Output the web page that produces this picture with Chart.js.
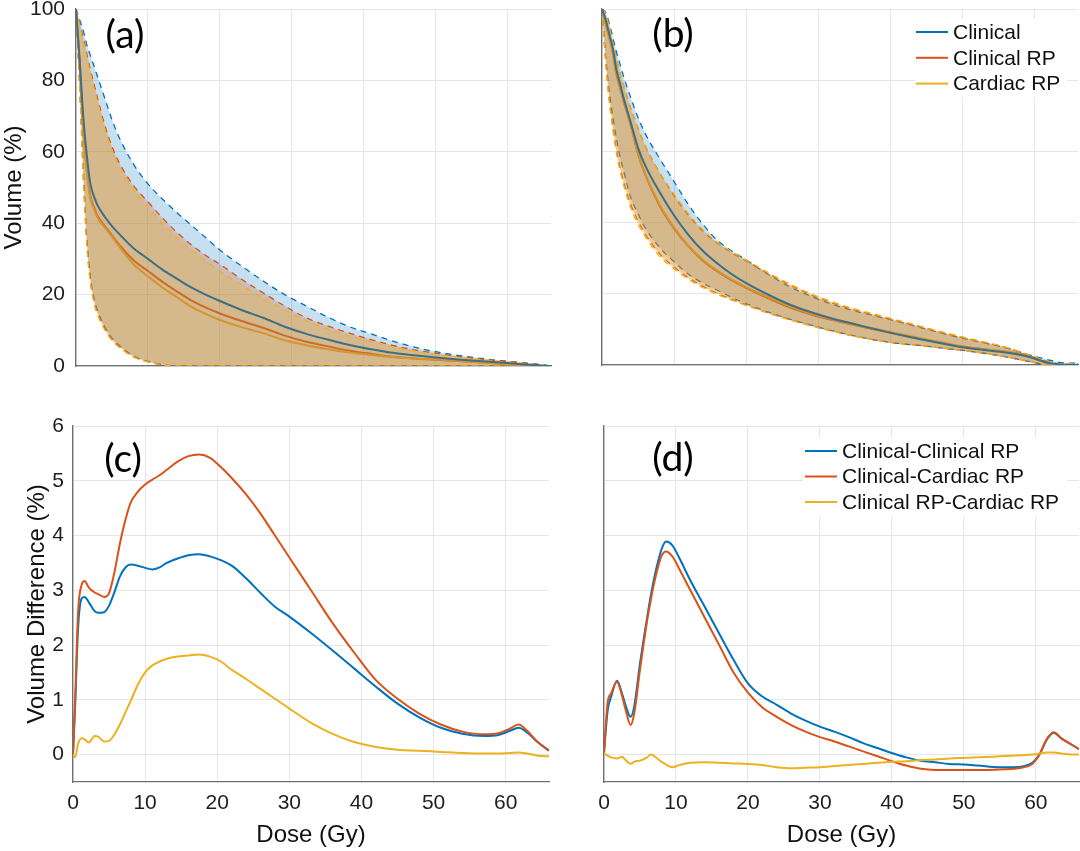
<!DOCTYPE html>
<html>
<head>
<meta charset="utf-8">
<script src="https://cdn.jsdelivr.net/npm/chart.js@4.4.1/dist/chart.umd.min.js"></script>
<style>
html,body{margin:0;padding:0;background:#ffffff;}
body{width:1080px;height:851px;position:relative;overflow:hidden;}
canvas{position:absolute;}
</style>
</head>
<body>
<canvas id="pa" width="560" height="400" style="left:0px;top:0px;width:560px;height:400px"></canvas>
<canvas id="pb" width="490" height="400" style="left:590px;top:0px;width:490px;height:400px"></canvas>
<canvas id="pc" width="560" height="451" style="left:0px;top:400px;width:560px;height:451px"></canvas>
<canvas id="pd" width="490" height="451" style="left:590px;top:400px;width:490px;height:451px"></canvas>
<script>
// ---------------- DATA ----------------
const legendAB = ['Clinical', 'Clinical RP', 'Cardiac RP'];
const legendCD = ['Clinical-Clinical RP', 'Clinical-Cardiac RP', 'Clinical RP-Cardiac RP'];
const panelLabels = ['(a)', '(b)', '(c)', '(d)'];
const xTicksDose = [0, 10, 20, 30, 40, 50, 60];
const yTicksVolume = [0, 20, 40, 60, 80, 100];
const yTicksDiff = [0, 1, 2, 3, 4, 5, 6];

// Dose grid for DVH panels (a) and (b), Gy
const doseAB = [0,0.5,1,1.5,2,2.5,3,4,5,6,8,10,12,14,16,18,20,23,26,29,32,35,38,41,44,47,50,53,56,59,62,64,66];

// Panel (a): mean DVH and band limits (%)
const aClinical     = [100,86,70,59,51,47.5,45,41.8,39.2,37,33,30,27,24.5,22,20,18.2,15.7,13.5,11,9,7.4,5.9,4.7,3.7,3.0,2.4,1.85,1.4,0.95,0.5,0.2,0];
const aClinicalRP   = [100,85,67,55,47.5,44.5,42,39.2,36.6,34,29.6,26.6,23.6,20.9,18.4,16.4,14.7,12.6,10.7,8.5,6.8,5.5,4.3,3.4,2.6,2.1,1.75,1.4,1.05,0.6,0.05,0,0];
const aCardiacRP    = [100,85,66.5,54.5,47,44,41.5,38.8,36.2,33.5,28.5,25.1,22,19.3,16.6,14.6,12.9,10.9,9.2,7.2,5.8,4.7,3.8,3.1,2.5,2.1,1.85,1.45,1.05,0.6,0.05,0,0];
const aClinicalUp   = [100,97,94,90,87,84,81,75,69,64,56.5,51,46.8,43,39.5,36,32.5,28,23.8,20,16.8,13.7,11,9,7,5.3,4,3,2.2,1.5,0.9,0.5,0];
const aClinicalRPUp = [100,96,92,87.5,83,79,75,67.5,61.5,57,50.5,46,41.5,37.5,34,31,28.5,24.3,20.5,16.8,13.5,11.2,9.2,7.4,5.8,4.5,3.6,2.7,2.0,1.45,0.9,0.5,0];
const aCardiacRPUp  = [100,95.5,91,86.5,82,78,74,66.5,60.5,56,49.5,44.5,40,36,32.5,29.5,26.5,22.7,19,15.7,12.6,10.3,8.4,6.8,5.3,4.2,3.2,2.5,1.8,1.25,0.7,0.3,0];
const aClinicalLow  = [100,80,56,36,25,19,15.5,11,7.8,5.8,2.8,1.3,0.4,0,0,0,0,0,0,0,0,0,0,0,0,0,0,0,0,0,0,0,0];
const aClinicalRPLow= [100,79,54,34.5,24,18.2,14.8,10.5,7.4,5.5,2.7,1.2,0.35,0,0,0,0,0,0,0,0,0,0,0,0,0,0,0,0,0,0,0,0];
const aCardiacRPLow = [100,78,53,33.5,23.2,17.6,14.3,10.1,7.1,5.2,2.5,1.1,0.3,0,0,0,0,0,0,0,0,0,0,0,0,0,0,0,0,0,0,0,0];

// Panel (b)
const bClinical     = [100,97,93,89,83,79,75,68,61,56,48.5,42,36.5,32,28.5,25.5,23,19.8,17,14.8,13,11.5,10,8.6,7.3,6.1,5,4.2,3.5,2.4,0.6,0.1,0];
const bClinicalRP   = [100,96.2,92,87.7,81.7,77.9,74.1,67.2,59.3,53.5,44.7,38.3,33.3,29.3,26.3,23.8,21.7,18.8,16.2,14.2,12.6,11.2,9.9,8.6,7.4,6.25,5.2,4.4,3.7,2.6,0.3,0,0];
const bCardiacRP    = [100,96.1,91.9,87.7,81.7,77.9,74.2,67.3,59.5,53.6,45,38.6,33.5,29.5,26.5,24,21.9,19.1,16.5,14.4,12.8,11.4,10.1,8.8,7.6,6.4,5.2,4.4,3.75,2.6,0.3,0,0];
const bClinicalUp   = [100,99,96,92,88,84.5,81,75,69.5,65,58,51.5,45,39.5,35,32,29.5,25.5,22,19.3,17,15.2,13.7,12.2,10.6,9,7.5,6.2,4.8,3.0,1.4,0.6,0.5];
const bClinicalRPUp = [100,98.5,95,90.5,86,82,78.5,72,66.5,61.5,54,47.5,42,37.6,34.2,31.5,29.2,25.7,22.5,19.7,17.4,15.5,13.9,12.3,10.8,9.2,7.7,6.3,4.9,2.9,0.9,0.3,0.3];
const bCardiacRPUp  = [100,98.5,95,90.5,86,82,78.5,72,66.5,61.5,54,48,42.5,38,34.5,31.8,29.5,26,22.8,20,17.7,15.8,14.2,12.6,11,9.4,7.9,6.5,5.0,3.0,0.9,0.3,0.3];
const bClinicalLow  = [100,87,77,70,63.5,58.5,54.5,47,42.5,38.5,33,29,25.5,23,21,19,17.2,14.9,12.9,11.2,9.6,8.2,7,6.1,5.5,4.8,4.1,3.3,2.3,1.1,0,0,0];
const bClinicalRPLow= [100,86,75,67,60.5,55.5,51.5,45,40.5,36.8,31.2,27.5,24.5,22.1,20.1,18.5,16.9,14.7,12.8,11.1,9.5,8.1,7,6.1,5.5,4.8,4.1,3.3,2.3,1.1,0,0,0];
const bCardiacRPLow = [100,85,74,66,59.5,54.5,50.5,44,39.5,36,30.5,27,24,21.7,19.8,18.2,16.7,14.6,12.7,11,9.5,8.1,7,6.1,5.5,4.8,4.1,3.3,2.3,1.1,0,0,0];

// Panel (c): volume difference (%)
const doseC = [0,0.3,0.7,1.2,1.6,2.2,3,3.5,4.3,5,5.7,6.5,7.3,8,9,10,11,12,13,14.5,16,17.5,19,20.5,22,24,26,28,30,33,36,39,42,45,48,51,54,57,59,60.5,61.8,63,64.5,66];
const cClinVsClinRP = [0,0.9,2.3,2.85,2.88,2.78,2.62,2.59,2.6,2.72,2.95,3.25,3.42,3.47,3.45,3.41,3.38,3.42,3.5,3.58,3.64,3.66,3.62,3.55,3.45,3.22,2.95,2.7,2.52,2.22,1.9,1.57,1.24,0.93,0.68,0.49,0.38,0.34,0.36,0.43,0.49,0.4,0.22,0.07];
const cClinVsCardRP = [0,1.0,2.6,3.1,3.17,3.05,2.96,2.93,2.88,2.95,3.3,3.85,4.3,4.6,4.8,4.93,5.02,5.1,5.2,5.35,5.45,5.48,5.42,5.25,5.05,4.75,4.4,4.0,3.6,3.0,2.4,1.86,1.36,1.02,0.75,0.55,0.42,0.37,0.39,0.47,0.55,0.43,0.22,0.08];
const cClinRPVsCardRP = [0,-0.05,0.2,0.3,0.28,0.22,0.34,0.33,0.24,0.25,0.36,0.55,0.78,0.98,1.28,1.5,1.63,1.7,1.75,1.79,1.81,1.83,1.79,1.7,1.55,1.38,1.2,1.02,0.84,0.58,0.38,0.23,0.14,0.09,0.07,0.05,0.03,0.02,0.02,0.03,0.04,0.02,-0.02,-0.03];

// Panel (d)
const doseD = [0,0.5,1,1.8,2.5,3,3.7,4.2,5,6,6.5,7,7.5,8,8.6,9.5,10.5,12,14,16,18,20,22,24,26,28,30,32,34,36,38,40,42,44,46,48,50,52,55,58,59.5,60.5,61.5,62.5,63.5,65,66];
const dClinVsClinRP = [0.03,0.8,1.06,1.35,1.12,0.9,0.69,0.88,1.66,2.51,2.9,3.24,3.52,3.75,3.89,3.82,3.58,3.18,2.7,2.21,1.73,1.3,1.06,0.91,0.75,0.62,0.51,0.42,0.32,0.21,0.12,0.03,-0.05,-0.11,-0.14,-0.17,-0.18,-0.2,-0.23,-0.22,-0.15,0.0,0.27,0.4,0.3,0.18,0.1];
const dClinVsCardRP = [0.03,0.95,1.12,1.33,1.08,0.82,0.54,0.75,1.55,2.45,2.82,3.15,3.42,3.63,3.71,3.62,3.38,3.0,2.5,2.0,1.5,1.13,0.86,0.69,0.54,0.42,0.32,0.24,0.15,0.06,-0.03,-0.12,-0.2,-0.26,-0.28,-0.28,-0.28,-0.28,-0.27,-0.24,-0.17,0.0,0.28,0.41,0.3,0.18,0.1];
const dClinRPVsCardRP = [0.03,-0.02,-0.05,-0.07,-0.04,-0.1,-0.17,-0.13,-0.11,-0.05,0.0,-0.03,-0.08,-0.13,-0.18,-0.23,-0.19,-0.15,-0.14,-0.15,-0.16,-0.17,-0.19,-0.23,-0.25,-0.24,-0.23,-0.21,-0.19,-0.17,-0.15,-0.13,-0.12,-0.1,-0.09,-0.07,-0.06,-0.05,-0.03,-0.01,0.0,0.02,0.04,0.04,0.02,0.0,0.0];

// ---------------- STYLE ----------------
const C_BLUE = '#0072BD', C_RED = '#D95319', C_YEL = '#EDB120';
const FILL_BLUE = 'rgba(0,114,189,0.22)', FILL_RED = 'rgba(217,83,25,0.25)', FILL_YEL = 'rgba(237,177,32,0.30)';
const MEAN_BLUE = '#3d6f86', MEAN_RED = '#cd6b2c', MEAN_YEL = '#d3962e';
const FONT = '"Liberation Sans", Arial, Helvetica, sans-serif';
const GRID = '#e6e6e6', AXIS = '#707070', TXT = '#1e1e1e';

function xy(d, v) { return d.map((x, i) => ({x: x, y: v[i]})); }
function axisFit(size) {
  return function (s) {
    if (s.isHorizontal()) { s.height = size; } else { s.width = size; }
    s.paddingLeft = 0; s.paddingRight = 0; s.paddingTop = 0; s.paddingBottom = 0;
  };
}
function setTicks(list) {
  return function (s) { s.ticks = list.map(v => ({value: v})); };
}

const decor = {
  id: 'decor',
  afterDraw(chart, args, o) {
    const ctx = chart.ctx;
    ctx.save();
    if (o.items) {
      ctx.fillStyle = '#ffffff';
      ctx.fillRect(o.bx, o.by, o.bw, o.bh);
      ctx.font = '21px ' + FONT;
      ctx.textAlign = 'left'; ctx.textBaseline = 'middle';
      o.items.forEach((txt, i) => {
        const y = o.y0 + i * o.dy;
        ctx.strokeStyle = o.colors[i]; ctx.lineWidth = 2;
        ctx.beginPath(); ctx.moveTo(o.x0, y); ctx.lineTo(o.x0 + o.len, y); ctx.stroke();
        ctx.fillStyle = '#111111';
        ctx.fillText(txt, o.x0 + o.len + 5, y + 1);
      });
    }
    ctx.font = '39px Lato, "Open Sans", sans-serif';
    ctx.fillStyle = '#000000'; ctx.textAlign = 'center'; ctx.textBaseline = 'middle';
    ctx.fillText(o.label, o.lx, o.ly);
    ctx.restore();
  }
};

function scalesFor(p) {
  return {
    x: {
      type: 'linear', min: 0, max: 66, bounds: 'data',
      afterFit: axisFit(p.xH),
      afterBuildTicks: setTicks(xTicksDose),
      ticks: { display: p.xLabels, padding: 9, color: TXT,
               font: {family: FONT, size: 21}, maxRotation: 0, autoSkip: false },
      grid: { color: GRID, lineWidth: 1, drawTicks: false },
      border: { display: true, color: AXIS, width: 1.3 },
      title: { display: p.xLabels, text: 'Dose (Gy)', color: '#111', font: {family: FONT, size: 24},
               padding: {top: 0, bottom: 1} }
    },
    y: {
      type: 'linear', min: p.yMin, max: p.yMax, bounds: 'data',
      afterFit: axisFit(p.yW),
      afterBuildTicks: setTicks(p.yTicks),
      ticks: { display: p.yLabels, padding: p.yPad, color: TXT,
               font: {family: FONT, size: 21}, autoSkip: false },
      grid: { color: GRID, lineWidth: 1, drawTicks: false },
      border: { display: true, color: AXIS, width: 1.3 },
      title: { display: !!p.yTitle, text: p.yTitle || '', color: '#111', font: {family: FONT, size: 24},
               padding: {top: p.yTitlePad || 0, bottom: 0} }
    }
  };
}

function dvhDatasets(dose, mean, up, low) {
  const ds = [];
  const meanCols = [MEAN_BLUE, MEAN_RED, MEAN_YEL];
  const meanOrder = [0, 2, 1];
  legendAB.forEach((name, i) => {
    ds.push({ label: name, data: xy(dose, mean[i]), borderColor: meanCols[i], borderWidth: 2,
              fill: false, order: meanOrder[i], pointRadius: 0 });
  });
  const lineCols = [C_BLUE, C_RED, C_YEL];
  const fills = [FILL_BLUE, FILL_RED, FILL_YEL];
  const orders = [6, 5, 4];
  legendAB.forEach((name, i) => {
    const lowIdx = ds.length;
    ds.push({ label: name + ' min', data: xy(dose, low[i]), borderColor: lineCols[i], borderWidth: 1.3,
              borderDash: [6, 5], fill: false, order: orders[i], pointRadius: 0 });
    ds.push({ label: name + ' max', data: xy(dose, up[i]), borderColor: lineCols[i], borderWidth: 1.3,
              borderDash: [6, 5], fill: lowIdx, backgroundColor: fills[i], order: orders[i], pointRadius: 0 });
  });
  return ds;
}

function diffDatasets(dose, series) {
  const cols = [C_BLUE, C_RED, C_YEL];
  return legendCD.map((name, i) => ({
    label: name, data: xy(dose, series[i]), borderColor: cols[i], borderWidth: 2,
    fill: false, order: 3 - i, pointRadius: 0
  }));
}

function makeChart(id, datasets, scaleOpts, pad, decorOpts) {
  return new Chart(document.getElementById(id), {
    type: 'line',
    data: { datasets: datasets },
    options: {
      responsive: false, animation: false, events: [],
      layout: { padding: pad },
      elements: { line: { cubicInterpolationMode: 'monotone' }, point: { radius: 0 } },
      scales: scalesFor(scaleOpts),
      plugins: { legend: { display: false }, tooltip: { enabled: false }, decor: decorOpts }
    },
    plugins: [decor]
  });
}

// (a)
makeChart('pa',
  dvhDatasets(doseAB, [aClinical, aClinicalRP, aCardiacRP], [aClinicalUp, aClinicalRPUp, aCardiacRPUp], [aClinicalLow, aClinicalRPLow, aCardiacRPLow]),
  { xH: 34, xLabels: false, yW: 76, yMin: 0, yMax: 100, yTicks: yTicksVolume, yLabels: true, yPad: 11, yTitle: 'Volume (%)', yTitlePad: 0 },
  { left: 0, right: 9, top: 9, bottom: 0 },
  { label: panelLabels[0], lx: 125, ly: 35 });

// (b)
makeChart('pb',
  dvhDatasets(doseAB, [bClinical, bClinicalRP, bCardiacRP], [bClinicalUp, bClinicalRPUp, bCardiacRPUp], [bClinicalLow, bClinicalRPLow, bCardiacRPLow]),
  { xH: 35, xLabels: false, yW: 12, yMin: 0, yMax: 100, yTicks: yTicksVolume, yLabels: false, yPad: 0 },
  { left: 0, right: 2, top: 9, bottom: 0 },
  { label: panelLabels[1], lx: 83, ly: 34, items: legendAB, colors: [C_BLUE, C_RED, C_YEL],
    x0: 326, len: 32, y0: 32, dy: 25.8, bx: 325, by: 19, bw: 152, bh: 78 });

// (c)
makeChart('pc',
  diffDatasets(doseC, [cClinVsClinRP, cClinVsCardRP, cClinRPVsCardRP]),
  { xH: 69, xLabels: true, yW: 73, yMin: -0.5, yMax: 6, yTicks: yTicksDiff, yLabels: true, yPad: 9, yTitle: 'Volume Difference (%)', yTitlePad: 23 },
  { left: 0, right: 11, top: 26, bottom: 0 },
  { label: panelLabels[2], lx: 123, ly: 59 });

// (d)
makeChart('pd',
  diffDatasets(doseD, [dClinVsClinRP, dClinVsCardRP, dClinRPVsCardRP]),
  { xH: 69, xLabels: true, yW: 14, yMin: -0.5, yMax: 6, yTicks: yTicksDiff, yLabels: false, yPad: 0 },
  { left: 0, right: 1, top: 26, bottom: 0 },
  { label: panelLabels[3], lx: 83, ly: 58, items: legendCD, colors: [C_BLUE, C_RED, C_YEL],
    x0: 215, len: 32, y0: 51, dy: 25.5, bx: 213, by: 38, bw: 264, bh: 78 });
</script>
</body>
</html>
